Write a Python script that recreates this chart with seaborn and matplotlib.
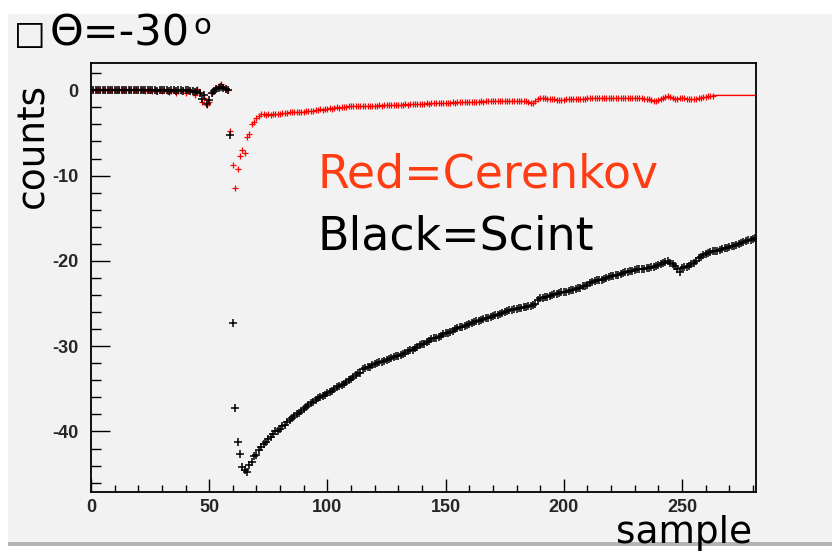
import matplotlib
matplotlib.use("Agg")
import matplotlib.pyplot as plt
import matplotlib.patches as mpatches
from matplotlib.ticker import MultipleLocator
import numpy as np
import pandas as pd
import seaborn as sns

# ---------------- data ----------------
samples = list(range(0, 282))

scint = [
    # 0-43 baseline
    0.0, 0.0, 0.0, 0.0, 0.0, 0.0, 0.0, 0.0, 0.0, 0.0,
    0.0, 0.0, 0.0, 0.0, 0.0, 0.0, 0.0, 0.0, 0.0, 0.0,
    0.0, 0.0, 0.0, 0.0, 0.0, 0.0, 0.0, 0.0, -0.1, 0.0,
    0.0, 0.0, 0.0, -0.1, 0.0, 0.0, -0.1, 0.0, 0.0, -0.1,
    0.0, 0.0, -0.1, -0.1,
    # 44-58 pre-pulse wiggle
    -0.2, -0.1, -0.3, -1.0, -0.5, -1.6, -1.1, -0.3, -0.1, 0.2,
    0.3, 0.4, 0.3, 0.2, 0.0,
    # 59-72 main pulse
    -5.3, -27.3, -37.3, -41.2, -42.7, -44.2, -44.5, -44.8, -43.9, -43.6,
    -42.9, -42.8, -42.2, -41.8,
    # 73-100
    -41.5, -41.2, -40.9, -40.6, -40.3, -40.0, -39.9, -39.7,
    -39.4, -39.2, -38.9, -38.7, -38.4, -38.2, -38.0, -37.8, -37.6, -37.4,
    -37.1, -36.9, -36.7, -36.5, -36.3, -36.1, -36.0, -35.8, -35.7, -35.5,
    # 101-145
    -35.4, -35.2, -35.0, -34.8, -34.7, -34.5, -34.4, -34.2, -34.0, -33.8,
    -33.6, -33.4, -33.2, -33.1, -32.7, -32.6, -32.5, -32.4, -32.2, -32.1,
    -32.0, -31.9, -31.8, -31.7, -31.6, -31.5, -31.4, -31.3, -31.2, -31.1,
    -31.0, -30.9, -30.8, -30.6, -30.5, -30.4, -30.2, -30.1, -29.9, -29.8,
    -29.7, -29.5, -29.4, -29.2, -29.1,
    # 146-187
    -29.0, -28.9, -28.8, -28.6, -28.5, -28.4, -28.3, -28.2, -28.0, -27.9,
    -27.8, -27.7, -27.6, -27.5, -27.4, -27.3, -27.2, -27.1, -27.0, -26.9,
    -26.8, -26.7, -26.7, -26.6, -26.5, -26.4, -26.3, -26.2, -26.1, -26.0,
    -25.9, -25.8, -25.8, -25.7, -25.6, -25.5, -25.5, -25.4, -25.4, -25.3,
    -25.3, -25.2,
    # 188-240
    -25.0, -24.6, -24.4, -24.3, -24.2, -24.2, -24.1, -24.0, -23.9, -23.9,
    -23.8, -23.7, -23.6, -23.6, -23.5, -23.4, -23.4, -23.3, -23.2, -23.2,
    -23.0, -22.9, -22.8, -22.6, -22.5, -22.4, -22.3, -22.2, -22.2, -22.1,
    -22.0, -21.9, -21.8, -21.8, -21.7, -21.6, -21.5, -21.4, -21.3, -21.3,
    -21.2, -21.2, -21.1, -21.0, -21.0, -20.9, -20.9, -20.8, -20.8, -20.7,
    -20.7, -20.6, -20.5,
    # 241-281
    -20.4, -20.2, -20.1, -20.0, -20.2, -20.4, -20.6, -20.9, -21.3, -20.8,
    -20.7, -20.7, -20.6, -20.4, -20.2, -20.0, -19.7, -19.5, -19.3, -19.2,
    -19.1, -19.0, -18.9, -18.8, -18.8, -18.7, -18.6, -18.5, -18.5, -18.4,
    -18.3, -18.2, -18.1, -18.0, -17.9, -17.8, -17.7, -17.6, -17.5, -17.4,
    -17.3,
]

cerenkov = [
    # 0-43 baseline
    0.0, 0.0, 0.0, 0.0, 0.0, 0.0, 0.0, 0.0, 0.0, 0.0,
    0.0, 0.0, 0.0, 0.0, 0.0, 0.0, 0.0, 0.0, 0.0, 0.0,
    0.0, 0.0, 0.0, -0.1, 0.0, 0.0, -0.1, 0.0, -0.1, 0.0,
    -0.1, 0.0, -0.1, -0.2, -0.1, 0.0, -0.3, -0.1, -0.1, 0.0,
    -0.3, -0.1, 0.0, -0.2,
    # 44-58
    -0.5, 0.1, -0.3, -1.4, -0.9, -1.7, -1.4, -0.3, 0.0, 0.3,
    0.5, 0.7, 0.4, 0.2, 0.0,
    # 59-80
    -4.8, -8.8, -11.4, -9.2, -7.7, -7.0, -7.3, -5.5, -5.1, -3.9,
    -3.7, -3.2, -3.0, -2.8, -2.8, -2.9, -2.8, -2.9, -2.8, -2.8,
    -2.8, -2.75,
    # 81-120
    -2.7, -2.7, -2.7, -2.6, -2.6, -2.6, -2.5, -2.5, -2.5, -2.5,
    -2.4, -2.4, -2.4, -2.4, -2.3, -2.3, -2.2, -2.3, -2.2, -2.2,
    -2.1, -2.2, -2.1, -2.0, -2.1, -2.0, -2.0, -2.0, -1.9, -1.9,
    -1.9, -1.9, -1.9, -1.8, -1.8, -1.8, -1.8, -1.8, -1.8, -1.8,
    # 121-160
    -1.8, -1.75, -1.8, -1.7, -1.7, -1.7, -1.7, -1.7, -1.7, -1.7,
    -1.7, -1.7, -1.6, -1.7, -1.6, -1.6, -1.6, -1.6, -1.6, -1.6,
    -1.6, -1.5, -1.6, -1.5, -1.5, -1.5, -1.5, -1.5, -1.5, -1.5,
    -1.5, -1.5, -1.4, -1.5, -1.4, -1.4, -1.4, -1.4, -1.4, -1.4,
    # 161-200
    -1.4, -1.4, -1.4, -1.35, -1.3, -1.4, -1.3, -1.3, -1.3, -1.3,
    -1.2, -1.3, -1.2, -1.2, -1.2, -1.2, -1.2, -1.2, -1.2, -1.3,
    -1.3, -1.3, -1.3, -1.3, -1.4, -1.5, -1.5, -1.3, -1.0, -0.9,
    -0.9, -0.9, -1.0, -1.0, -1.0, -1.0, -1.1, -1.1, -1.1, -1.1,
    # 201-240
    -1.0, -1.0, -1.0, -1.0, -1.0, -1.0, -1.0, -1.0, -1.0, -0.95,
    -0.95, -0.95, -0.95, -0.95, -0.95, -0.95, -0.9, -0.95, -0.95, -0.95,
    -0.95, -0.95, -0.95, -0.95, -0.95, -0.95, -0.9, -0.9, -0.9, -0.9,
    -0.85, -0.85, -0.9, -1.0, -1.05, -1.05, -1.1, -1.2, -1.25, -1.1,
    # 241-263
    -1.0, -0.9, -0.8, -0.7, -0.8, -0.9, -1.0, -1.0, -0.9, -0.85,
    -0.9, -1.0, -1.05, -1.05, -1.0, -1.0, -0.9, -0.85, -0.8, -0.75,
    -0.7, -0.7, -0.65,
    # 264-281 flat tail
    -0.6, -0.6, -0.6, -0.6, -0.6, -0.6, -0.6, -0.6, -0.6, -0.6,
    -0.6, -0.6, -0.6, -0.6, -0.6, -0.6, -0.6, -0.6,
]

x_ticks = [0, 50, 100, 150, 200, 250]
y_ticks = [0, -10, -20, -30, -40]

title_text = "Θ=-30"
xlabel = "sample"
ylabel = "counts"
note_red = "Red=Cerenkov"
note_black = "Black=Scint"

df = pd.DataFrame({"sample": samples, "scint": scint, "cerenkov": cerenkov})
n_marked = 264  # cerenkov points shown with markers; the rest is a flat line

# ---------------- figure ----------------
sns.set_theme(style="white")
plt.rcParams["font.family"] = ["DejaVu Sans"]

BG = "#f2f2f2"
fig = plt.figure(figsize=(8.32, 5.52), dpi=100, facecolor="white")
# grey canvas panel (behind everything)
fig.patches.append(mpatches.Rectangle((8 / 832, 10 / 552), 824 / 832, 528 / 552,
                                      transform=fig.transFigure, facecolor=BG,
                                      edgecolor="none", zorder=-10))
fig.patches.append(mpatches.Rectangle((8 / 832, 6 / 552), 824 / 832, 4 / 552,
                                      transform=fig.transFigure, facecolor="#b4b4b4",
                                      edgecolor="none", zorder=-10))

ax = fig.add_axes([91 / 832, 60 / 552, 665 / 832, 429 / 552])
ax.set_zorder(2)
ax.set_facecolor(BG)

sns.lineplot(data=df.iloc[n_marked - 1:], x="sample", y="cerenkov", ax=ax,
             color="#ff0000", linewidth=1.0, estimator=None, sort=False, zorder=3)
sns.scatterplot(data=df.iloc[:n_marked], x="sample", y="cerenkov", ax=ax,
                color="#ff0000", marker="+", s=16, linewidth=0.9, zorder=4)
sns.scatterplot(data=df, x="sample", y="scint", ax=ax, color="black",
                marker="+", s=26, linewidth=1.1, zorder=5)

ax.set_xlim(0, 281.3)
ax.set_ylim(-47.1, 3.2)
ax.set_xticks(x_ticks)
ax.set_yticks(y_ticks)
ax.xaxis.set_minor_locator(MultipleLocator(10))
ax.yaxis.set_minor_locator(MultipleLocator(2))
ax.set_xlabel("")
ax.set_ylabel("")

tick_font = dict(family="Liberation Sans", weight="bold", size=13)
ax.set_xticklabels([str(t) for t in x_ticks], fontdict=tick_font)
ax.set_yticklabels([str(t) for t in y_ticks], fontdict=tick_font)
ax.tick_params(axis="x", which="major", direction="in", length=9.5, width=1.0,
               color="black", pad=5, bottom=True, top=False)
ax.tick_params(axis="x", which="minor", direction="in", length=4.8, width=1.0,
               color="black", bottom=True, top=False)
ax.tick_params(axis="y", which="major", direction="in", length=13.7, width=1.0,
               color="black", pad=9, left=True, right=False)
ax.tick_params(axis="y", which="minor", direction="in", length=7.0, width=1.0,
               color="black", left=True, right=False)
for sp in ax.spines.values():
    sp.set_color("black")
    sp.set_linewidth(1.3)
    sp.set_visible(True)

# ---------------- texts ----------------
fig.text(318 / 832, (552 - 188) / 552, note_red, color="#ff3c14", fontsize=33,
         ha="left", va="baseline")
fig.text(318 / 832, (552 - 250) / 552, note_black, color="black", fontsize=33,
         ha="left", va="baseline")
fig.text(33 / 832, (552 - 145) / 552, ylabel, color="black", fontsize=27,
         rotation=90, ha="center", va="center")
fig.text(752 / 832, 9 / 552, xlabel, color="black", fontsize=27,
         ha="right", va="baseline")
fig.text(14 / 832, (552 - 44) / 552, "□", color="black", fontsize=24,
         ha="left", va="baseline")
fig.text(50 / 832, (552 - 45) / 552, title_text, color="black", fontsize=31,
         ha="left", va="baseline")
fig.text(193 / 832, (552 - 34) / 552, "o", color="black", fontsize=21,
         ha="left", va="baseline")

fig.savefig("out.png", dpi=100, facecolor=fig.get_facecolor())
